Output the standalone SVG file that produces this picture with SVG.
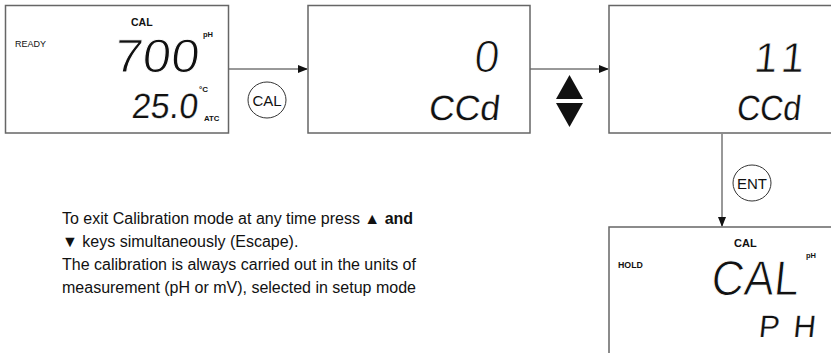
<svg xmlns="http://www.w3.org/2000/svg" width="831" height="353" viewBox="0 0 831 353">
<style>
.box{fill:#fff;stroke:#666;stroke-width:1.5}
.lcd{font-family:"Liberation Sans",Arial,sans-serif;fill:#111;stroke:#fff}
.big{stroke-width:1}
.mid{stroke-width:0.7}
.lo{stroke-width:0.2}
.sm{font-family:"Liberation Sans",Arial,sans-serif;fill:#111}
.b{font-weight:bold}
.con{stroke:#333;stroke-width:1;fill:none}
.key{fill:#fff;stroke:#333;stroke-width:1}
.keyt{font-family:"Liberation Sans",Arial,sans-serif;font-size:15px;fill:#111;text-anchor:middle}
.para{font-family:"Liberation Sans",Arial,sans-serif;font-size:16px;fill:#111}
</style>
<defs>
<marker id="ah" markerWidth="10" markerHeight="8" refX="9" refY="4" orient="auto" markerUnits="userSpaceOnUse">
<path d="M0,0 L10,4 L0,8 z" fill="#111"/>
</marker>
</defs>

<g id="connectors">
<line class="con" x1="229" y1="69" x2="307" y2="69" marker-end="url(#ah)"/>
<line class="con" x1="530" y1="69" x2="608" y2="69" marker-end="url(#ah)"/>
<line class="con" x1="722" y1="134" x2="722" y2="226" marker-end="url(#ah)"/>
<g id="key-cal">
<ellipse class="key" cx="267" cy="100" rx="19" ry="18"/>
<text class="keyt" x="267" y="105.5">CAL</text>
</g>
<g id="key-updown">
<polygon points="556,99 569.5,75 583,99" fill="#111"/>
<polygon points="556,103 583,103 569.5,127" fill="#111"/>
</g>
<g id="key-ent">
<ellipse class="key" cx="752" cy="183" rx="19" ry="18"/>
<text class="keyt" x="752" y="188.5">ENT</text>
</g>
</g>

<g id="display1">
<rect class="box" x="5.5" y="5.5" width="223" height="127.5"/>
<text class="sm" x="15" y="47" font-size="9">READY</text>
<text class="sm b" x="131" y="26" font-size="10.5">CAL</text>
<text class="sm b" x="203" y="37" font-size="7.5">pH</text>
<text class="lcd big" x="113" y="72" font-size="47" textLength="85" lengthAdjust="spacingAndGlyphs" transform="skewX(-6) translate(7.6,0)">700</text>
<text class="sm b" x="199" y="92" font-size="8">°C</text>
<text class="lcd lo" x="131" y="118" font-size="35" textLength="66" lengthAdjust="spacingAndGlyphs" transform="skewX(-6) translate(12.4,0)">25.0</text>
<text class="sm b" x="204" y="121" font-size="7.8">ATC</text>
</g>

<g id="display2">
<rect class="box" x="308" y="5.5" width="222" height="127.5"/>
<text class="lcd big" x="473" y="72" font-size="45" transform="skewX(-6) translate(7.6,0)">0</text>
<text class="lcd lo" x="428" y="120" font-size="35" textLength="71" lengthAdjust="spacingAndGlyphs" transform="skewX(-6) translate(12.6,0)">CCd</text>
</g>

<g id="display3">
<rect class="box" x="609" y="5.5" width="240" height="127.5"/>
<text class="lcd mid" x="753" y="72" font-size="42" textLength="50" lengthAdjust="spacing" transform="skewX(-6) translate(7.6,0)">11</text>
<text class="lcd lo" x="736" y="120" font-size="35" textLength="64" lengthAdjust="spacingAndGlyphs" transform="skewX(-6) translate(12.6,0)">CCd</text>
</g>

<g id="display4">
<rect class="box" x="609" y="227" width="240" height="150"/>
<text class="sm b" x="618" y="268" font-size="8.8">HOLD</text>
<text class="sm b" x="734" y="247" font-size="11">CAL</text>
<text class="sm b" x="806" y="258" font-size="7.5">pH</text>
<text class="lcd big" x="710" y="295" font-size="49" textLength="88" lengthAdjust="spacingAndGlyphs" transform="skewX(-6) translate(31,0)">CAL</text>
<text class="lcd lo" x="758" y="337" font-size="31" textLength="57" lengthAdjust="spacing" transform="skewX(-6) translate(35.4,0)">PH</text>
</g>

<g id="note">
<text class="para" x="62" y="224">To exit Calibration mode at any time press <tspan font-weight="bold">▲ and</tspan></text>
<text class="para" x="62" y="247">▼ keys simultaneously (Escape).</text>
<text class="para" x="62" y="270">The calibration is always carried out in the units of</text>
<text class="para" x="62" y="293">measurement (pH or mV), selected in setup mode</text>
</g>
</svg>
